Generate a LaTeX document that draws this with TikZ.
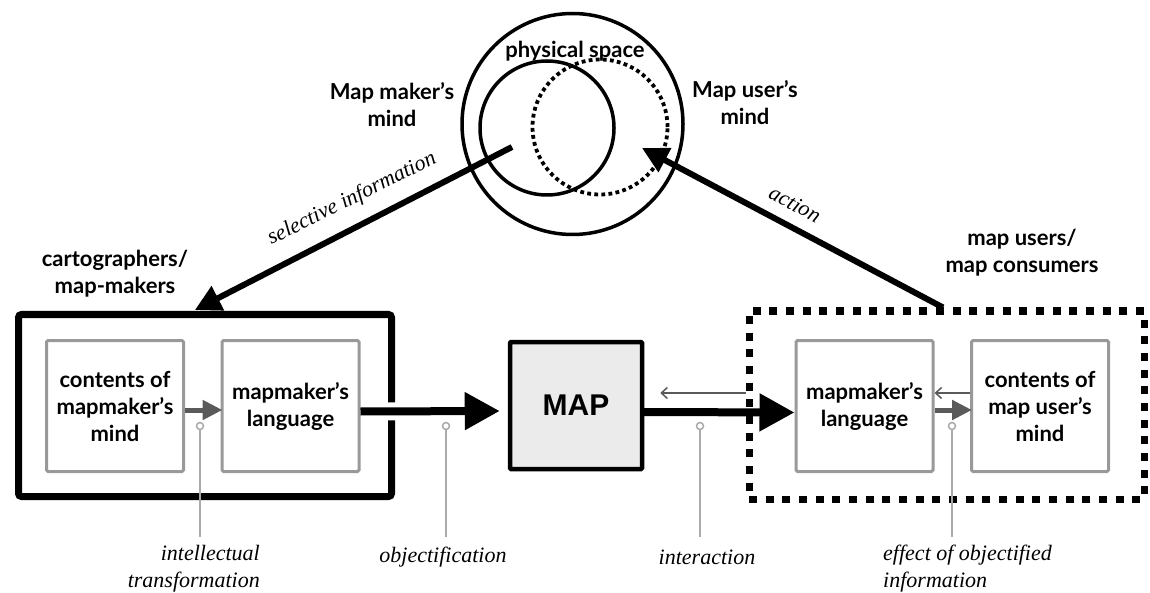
\documentclass[tikz,border=0pt]{standalone}
\usepackage{fontspec}
\setmainfont{Liberation Serif}
\setsansfont{Lato}
\newfontfamily\mapfont{Liberation Sans}
\usetikzlibrary{arrows.meta}

\definecolor{boxgray}{HTML}{999999}
\definecolor{flowgray}{HTML}{5A5A5A}
\definecolor{pingray}{HTML}{AAAAAA}
\definecolor{mapfill}{HTML}{EBEBEB}

\begin{document}
\begin{tikzpicture}[x=1pt,y=-1pt,
  lbl/.style={font=\sffamily\bfseries\fontsize{22}{27}\selectfont, align=center, inner sep=0pt},
  note/.style={font=\itshape\fontsize{22}{27}\selectfont, inner sep=0pt},
  innerbox/.style={draw=boxgray, line width=3pt, rounded corners=1.5pt, inner sep=0pt,
    minimum width=137pt, minimum height=131pt, align=center,
    font=\sffamily\bfseries\fontsize{22}{27}\selectfont},
  bigarrow/.style={line width=8pt, -{Triangle[length=35pt,width=36pt]}},
  longarrow/.style={line width=6pt, -{Triangle[length=26pt,width=26pt]}},
  smallarrow/.style={draw=flowgray, line width=5pt, -{Triangle[length=20pt,width=19pt]}},
  backarrow/.style={draw=flowgray, line width=1.5pt, -{Straight Barb[length=6pt,width=11pt]}},
  pin/.style={circle, draw=pingray, line width=1.5pt, fill=white, minimum size=7pt, inner sep=0pt},
  pinline/.style={draw=pingray, line width=1.5pt},
]
\useasboundingbox (0,0) rectangle (1150,593);

% ---- the mental spaces ----
\node[circle, draw, line width=3.5pt, minimum size=221pt, inner sep=0pt] (space) at (572.5,124) {};
\node[circle, draw, line width=3.5pt, minimum size=134pt, inner sep=0pt] (maker) at (547,128) {};
\node[circle, draw, line width=3.8pt, dash pattern=on 3.8pt off 3.3pt, minimum size=135pt, inner sep=0pt] (user) at (600,127) {};
\node[lbl] (spacelbl) at (575,51) {physical space};
\node[lbl] (makerlbl) at (392,105) {Map maker’s\\mind};
\node[lbl] (userlbl) at (745,103) {Map user’s\\mind};

% ---- producer side ----
\node[draw, line width=7pt, rounded corners=3pt, minimum width=373pt, minimum height=182pt] (producers) at (205,405.5) {};
\node[lbl] (producerslbl) at (115,274) {cartographers/\\map-makers};
\node[innerbox] (mind1) at (115,406) {contents of\\mapmaker’s\\mind};
\node[innerbox] (lang1) at (290.5,406) {mapmaker’s\\language};

% ---- the map ----
\node[draw, line width=4.5pt, fill=mapfill, rounded corners=1pt, minimum width=132pt, minimum height=127pt,
  font=\mapfont\bfseries\fontsize{30}{30}\selectfont] (map) at (576,405.5) {MAP};

% ---- consumer side ----
\node[draw, line width=7pt, dash pattern=on 8pt off 8.66pt, minimum width=395pt, minimum height=188pt] (users) at (946.5,405) {};
\node[lbl] (userslbl) at (1022,253) {map users/\\map consumers};
\node[innerbox] (lang2) at (864.5,406) {mapmaker’s\\language};
\node[innerbox] (mind2) at (1040,406) {contents of\\map user’s\\mind};

% ---- flows ----
\coordinate (fromspace) at (512,147);
\coordinate (intospace) at (642,148);
\draw[longarrow, shorten >=2pt] (fromspace) -- ([xshift=-12pt]producers.north);
\draw[longarrow] ([xshift=-3.5pt]users.north) -- (intospace);
\node[note, rotate=26.3] (sellbl) at (352,199) {selective information};
\node[note, rotate=-27.8] (actlbl) at (795,204) {action};

\draw[smallarrow] ([yshift=-4pt]mind1.east) -- ([yshift=-4pt,xshift=2pt]lang1.west);
\draw[bigarrow, preaction={draw=white, line width=18pt, -, shorten <=5pt, shorten >=45pt}]
  ([yshift=-5.5pt]lang1.east) -- ([yshift=-5.5pt,xshift=-8pt]map.west);
\draw[bigarrow] ([yshift=-6.5pt,xshift=-2pt]map.east) -- ([yshift=-6.5pt]lang2.west);
\draw[backarrow] ([yshift=12pt]users.west) -- ([xshift=16pt,yshift=12.5pt]map.east);
\draw[backarrow] ([yshift=13pt]mind2.west) -- ([yshift=13pt]lang2.east);
\draw[smallarrow] ([yshift=-4pt]lang2.east) -- ([yshift=-4pt,xshift=2pt]mind2.west);

% ---- annotations ----
\node[pin] (p1) at (200,426) {};
\node[pin] (p2) at (446,426) {};
\node[pin] (p3) at (700,426) {};
\node[pin] (p4) at (952,426) {};
\coordinate (e1) at (200,537);
\coordinate (e2) at (446,537);
\coordinate (e3) at (700,537);
\coordinate (e4) at (952,537);
\draw[pinline] (p1) -- (e1);
\draw[pinline] (p2) -- (e2);
\draw[pinline] (p3) -- (e3);
\draw[pinline] (p4) -- (e4);

\node[note, align=right, anchor=east] (n1) at (260,569) {intellectual\\transformation};
\node[note] (n2) at (443,557) {objectification};
\node[note] (n3) at (707,557) {interaction};
\node[note, align=left, anchor=west] (n4) at (883,569) {effect of objectified\\information};
\end{tikzpicture}
\end{document}
